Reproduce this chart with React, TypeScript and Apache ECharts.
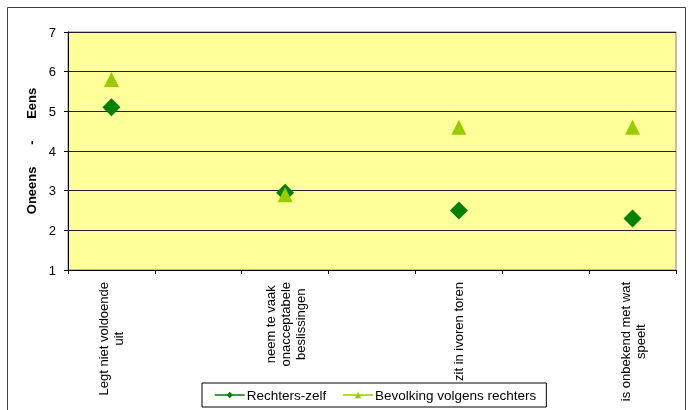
import React, { useEffect, useRef } from "react";
import * as echarts from "echarts";

const categories: string[] = [
  "Legt niet voldoende\nuit",
  "",
  "neem te vaak\nonacceptabele\nbeslissingen",
  "",
  "zit in ivoren toren",
  "",
  "is onbekend met wat\nspeelt",
];
const rechtersZelf: (number | null)[] = [5.1, null, 2.95, null, 2.5, null, 2.3];
const bevolking: (number | null)[] = [5.8, null, 2.9, null, 4.6, null, 4.6];
const seriesNames = ["Rechters-zelf", "Bevolking volgens rechters"];
const yAxisTitle = "Oneens      -      Eens";

const FONT = "Liberation Sans, Arial, sans-serif";

export default function App() {
  const ref = useRef<HTMLDivElement>(null);
  useEffect(() => {
    if (!ref.current) return;
    const chart = echarts.init(ref.current, undefined, { renderer: "svg" });
    chart.setOption({
      animation: false,
      textStyle: { fontFamily: FONT },
      graphic: [
        {
          type: "rect",
          silent: true,
          z: -10,
          shape: { x: 7.5, y: 7.5, width: 678, height: 430 },
          style: { fill: "#fff", stroke: "#404040", lineWidth: 1 },
        },
      ],
      grid: {
        left: 68,
        right: 13,
        top: 32,
        bottom: 140,
        show: true,
        backgroundColor: "#FFFF99",
        borderColor: "#808080",
        borderWidth: 1,
        z: 0,
      },
      legend: {
        left: 202,
        top: 383,
        orient: "horizontal",
        backgroundColor: "#fff",
        borderColor: "#000",
        borderWidth: 1,
        borderRadius: 0,
        padding: [5, 10, 5, 12],
        itemGap: 16,
        itemWidth: 30,
        itemHeight: 8,
        z: 10,
        textStyle: { fontFamily: FONT, fontSize: 13.5, color: "#000", padding: [0, 0, 0, -3] },
        lineStyle: { width: 1.5, opacity: 1 },
        data: seriesNames,
      },
      xAxis: {
        type: "category",
        data: categories,
        boundaryGap: true,
        axisLine: { lineStyle: { color: "#000", width: 1 } },
        axisTick: { show: true, interval: 0, length: 4, lineStyle: { color: "#000" } },
        splitLine: { show: false },
        axisLabel: {
          interval: 0,
          rotate: 90,
          margin: 12,
          fontFamily: FONT,
          fontSize: 13,
          color: "#000",
          lineHeight: 15,
          formatter: (v: string) =>
            v
              .split("\n")
              .map((l) => "{a|" + l + "}")
              .join("\n"),
          rich: { a: { align: "center", fontFamily: FONT, fontSize: 13, color: "#000", lineHeight: 15 } },
        },
      },
      yAxis: {
        type: "value",
        min: 1,
        max: 7,
        interval: 1,
        name: yAxisTitle,
        nameLocation: "middle",
        nameGap: 25,
        nameTextStyle: { fontFamily: FONT, fontSize: 13, fontWeight: "bold", color: "#000" },
        axisLine: { show: true, lineStyle: { color: "#000", width: 1 } },
        axisTick: { show: true, length: 4, lineStyle: { color: "#000" } },
        axisLabel: { margin: 12, fontFamily: FONT, fontSize: 13, color: "#000" },
        splitLine: { show: true, lineStyle: { color: "#222", width: 1 } },
      },
      series: [
        {
          name: seriesNames[0],
          type: "line",
          data: rechtersZelf,
          connectNulls: false,
          symbol: "diamond",
          symbolSize: 18,
          itemStyle: { color: "#008000" },
          lineStyle: { width: 0, color: "#008000" },
          z: 3,
        },
        {
          name: seriesNames[1],
          type: "line",
          data: bevolking,
          connectNulls: false,
          symbol: "triangle",
          symbolSize: 15,
          itemStyle: { color: "#99CC00" },
          lineStyle: { width: 0, color: "#99CC00" },
          z: 4,
        },
      ],
    });
    return () => chart.dispose();
  }, []);
  return (
    <div
      ref={ref}
      style={{ position: "fixed", left: 0, top: 0, width: 689, height: 410 }}
    />
  );
}
